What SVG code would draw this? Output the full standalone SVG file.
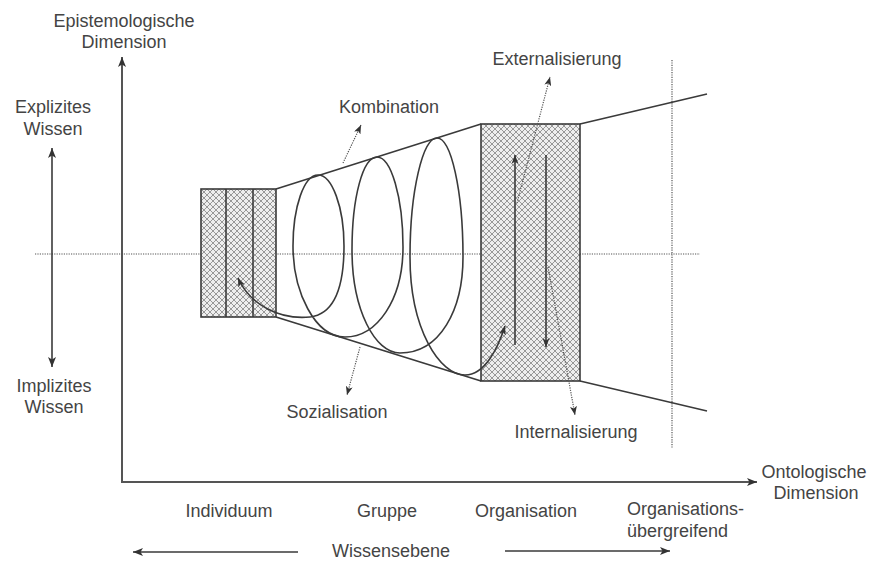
<svg xmlns="http://www.w3.org/2000/svg" width="869" height="561" viewBox="0 0 869 561">
<style>
text{font-family:"Liberation Sans",Arial,sans-serif;font-size:18px;fill:#444;text-anchor:middle}
.ax{stroke:#555;stroke-width:2;fill:none}
.ln{stroke:#3a3a3a;stroke-width:1.6;fill:none}
.dot{stroke:#555;stroke-width:1.2;stroke-dasharray:1.2 1.2;fill:none}
.box{fill:url(#hatch);stroke:#3a3a3a;stroke-width:1.6}
</style>
<defs>
<pattern id="hatch" width="6" height="6" patternUnits="userSpaceOnUse">
<rect width="6" height="6" fill="#eeeeee"/>
<path d="M0,0 L6,6 M6,0 L0,6 M-1,5 L1,7 M5,-1 L7,1 M-1,1 L1,-1 M5,7 L7,5" stroke="#8f8f8f" stroke-width="0.9"/>
</pattern>
<marker id="ah" viewBox="0 0 10 8" refX="10" refY="4" markerWidth="10" markerHeight="8" orient="auto-start-reverse" markerUnits="userSpaceOnUse">
<path d="M0,0 L10,4 L0,8 L2.5,4 z" fill="#333"/>
</marker>
<marker id="ahs" viewBox="0 0 10 8" refX="10" refY="4" markerWidth="9" markerHeight="7" orient="auto-start-reverse" markerUnits="userSpaceOnUse">
<path d="M0,0 L10,4 L0,8 L2.5,4 z" fill="#333"/>
</marker>
</defs>
<rect width="869" height="561" fill="#fff"/>

<g id="guides">
<line class="dot" x1="35" y1="254" x2="700" y2="254"/>
<line class="dot" x1="672" y1="60" x2="672" y2="448"/>
</g>

<g id="individuum">
<rect class="box" x="201" y="189" width="75" height="128"/>
<line class="ln" x1="226" y1="189" x2="226" y2="317"/>
<line class="ln" x1="253" y1="189" x2="253" y2="317"/>
</g>

<g id="organisation">
<rect class="box" x="481" y="124" width="99" height="257"/>
</g>

<g id="funnel">
<line class="ln" x1="276" y1="189" x2="481" y2="124"/>
<line class="ln" x1="276" y1="317" x2="481" y2="381"/>
<line class="ln" x1="580" y1="124" x2="707" y2="94"/>
<line class="ln" x1="580" y1="381" x2="707" y2="411"/>
</g>

<g id="connectors">
<line class="ax" x1="122" y1="482" x2="122" y2="57" marker-end="url(#ah)"/>
<line class="ax" x1="121" y1="482" x2="757" y2="482" marker-end="url(#ah)"/>
<line class="ln" x1="52" y1="148" x2="52" y2="367" marker-start="url(#ah)" marker-end="url(#ah)"/>
<line class="ln" x1="298" y1="552" x2="133" y2="552" marker-end="url(#ah)"/>
<line class="ln" x1="505" y1="551" x2="670" y2="551" marker-end="url(#ah)"/>
<path id="spiral" class="ln" stroke-width="1.8" marker-start="url(#ahs)" marker-end="url(#ahs)" d="M238,278 C250,305 280,320 310,317 C335,314 344,285 344,246 C344,207 332,175 318,175 C304,175 293,207 293,246 C293,292 315,337 345,337 C377,337 403,300 403,247 C403,197 391,157 377,157 C363,157 352,197 352,250 C352,310 375,353 400,353 C440,353 463,310 463,257 C463,190 451,138 437,138 C423,138 410,190 410,257 C410,330 440,375 465,375 C485,375 498,348 505,326"/>
<line class="ln" x1="515" y1="345" x2="515" y2="155" marker-end="url(#ahs)"/>
<line class="ln" x1="546" y1="155" x2="546" y2="347" marker-end="url(#ahs)"/>
<line class="dot" x1="343" y1="163" x2="361" y2="125" marker-end="url(#ahs)"/>
<line class="dot" x1="360" y1="347" x2="347" y2="395" marker-end="url(#ahs)"/>
<line class="dot" x1="517" y1="203" x2="550" y2="77" marker-end="url(#ahs)"/>
<line class="dot" x1="548" y1="267" x2="575" y2="415" marker-end="url(#ahs)"/>
</g>

<g id="labels">
<text x="124" y="27">Epistemologische</text>
<text x="124" y="48">Dimension</text>
<text x="53" y="113">Explizites</text>
<text x="53" y="135">Wissen</text>
<text x="54" y="392">Implizites</text>
<text x="54" y="413">Wissen</text>
<text x="389" y="113">Kombination</text>
<text x="557" y="65">Externalisierung</text>
<text x="337" y="418">Sozialisation</text>
<text x="576" y="438">Internalisierung</text>
<text x="814" y="478">Ontologische</text>
<text x="816" y="499">Dimension</text>
<text x="229" y="517">Individuum</text>
<text x="387" y="517">Gruppe</text>
<text x="526" y="517">Organisation</text>
<text x="627" y="515" style="text-anchor:start">Organisations-</text>
<text x="627" y="537" style="text-anchor:start">übergreifend</text>
<text x="391" y="557">Wissensebene</text>
</g>
</svg>
